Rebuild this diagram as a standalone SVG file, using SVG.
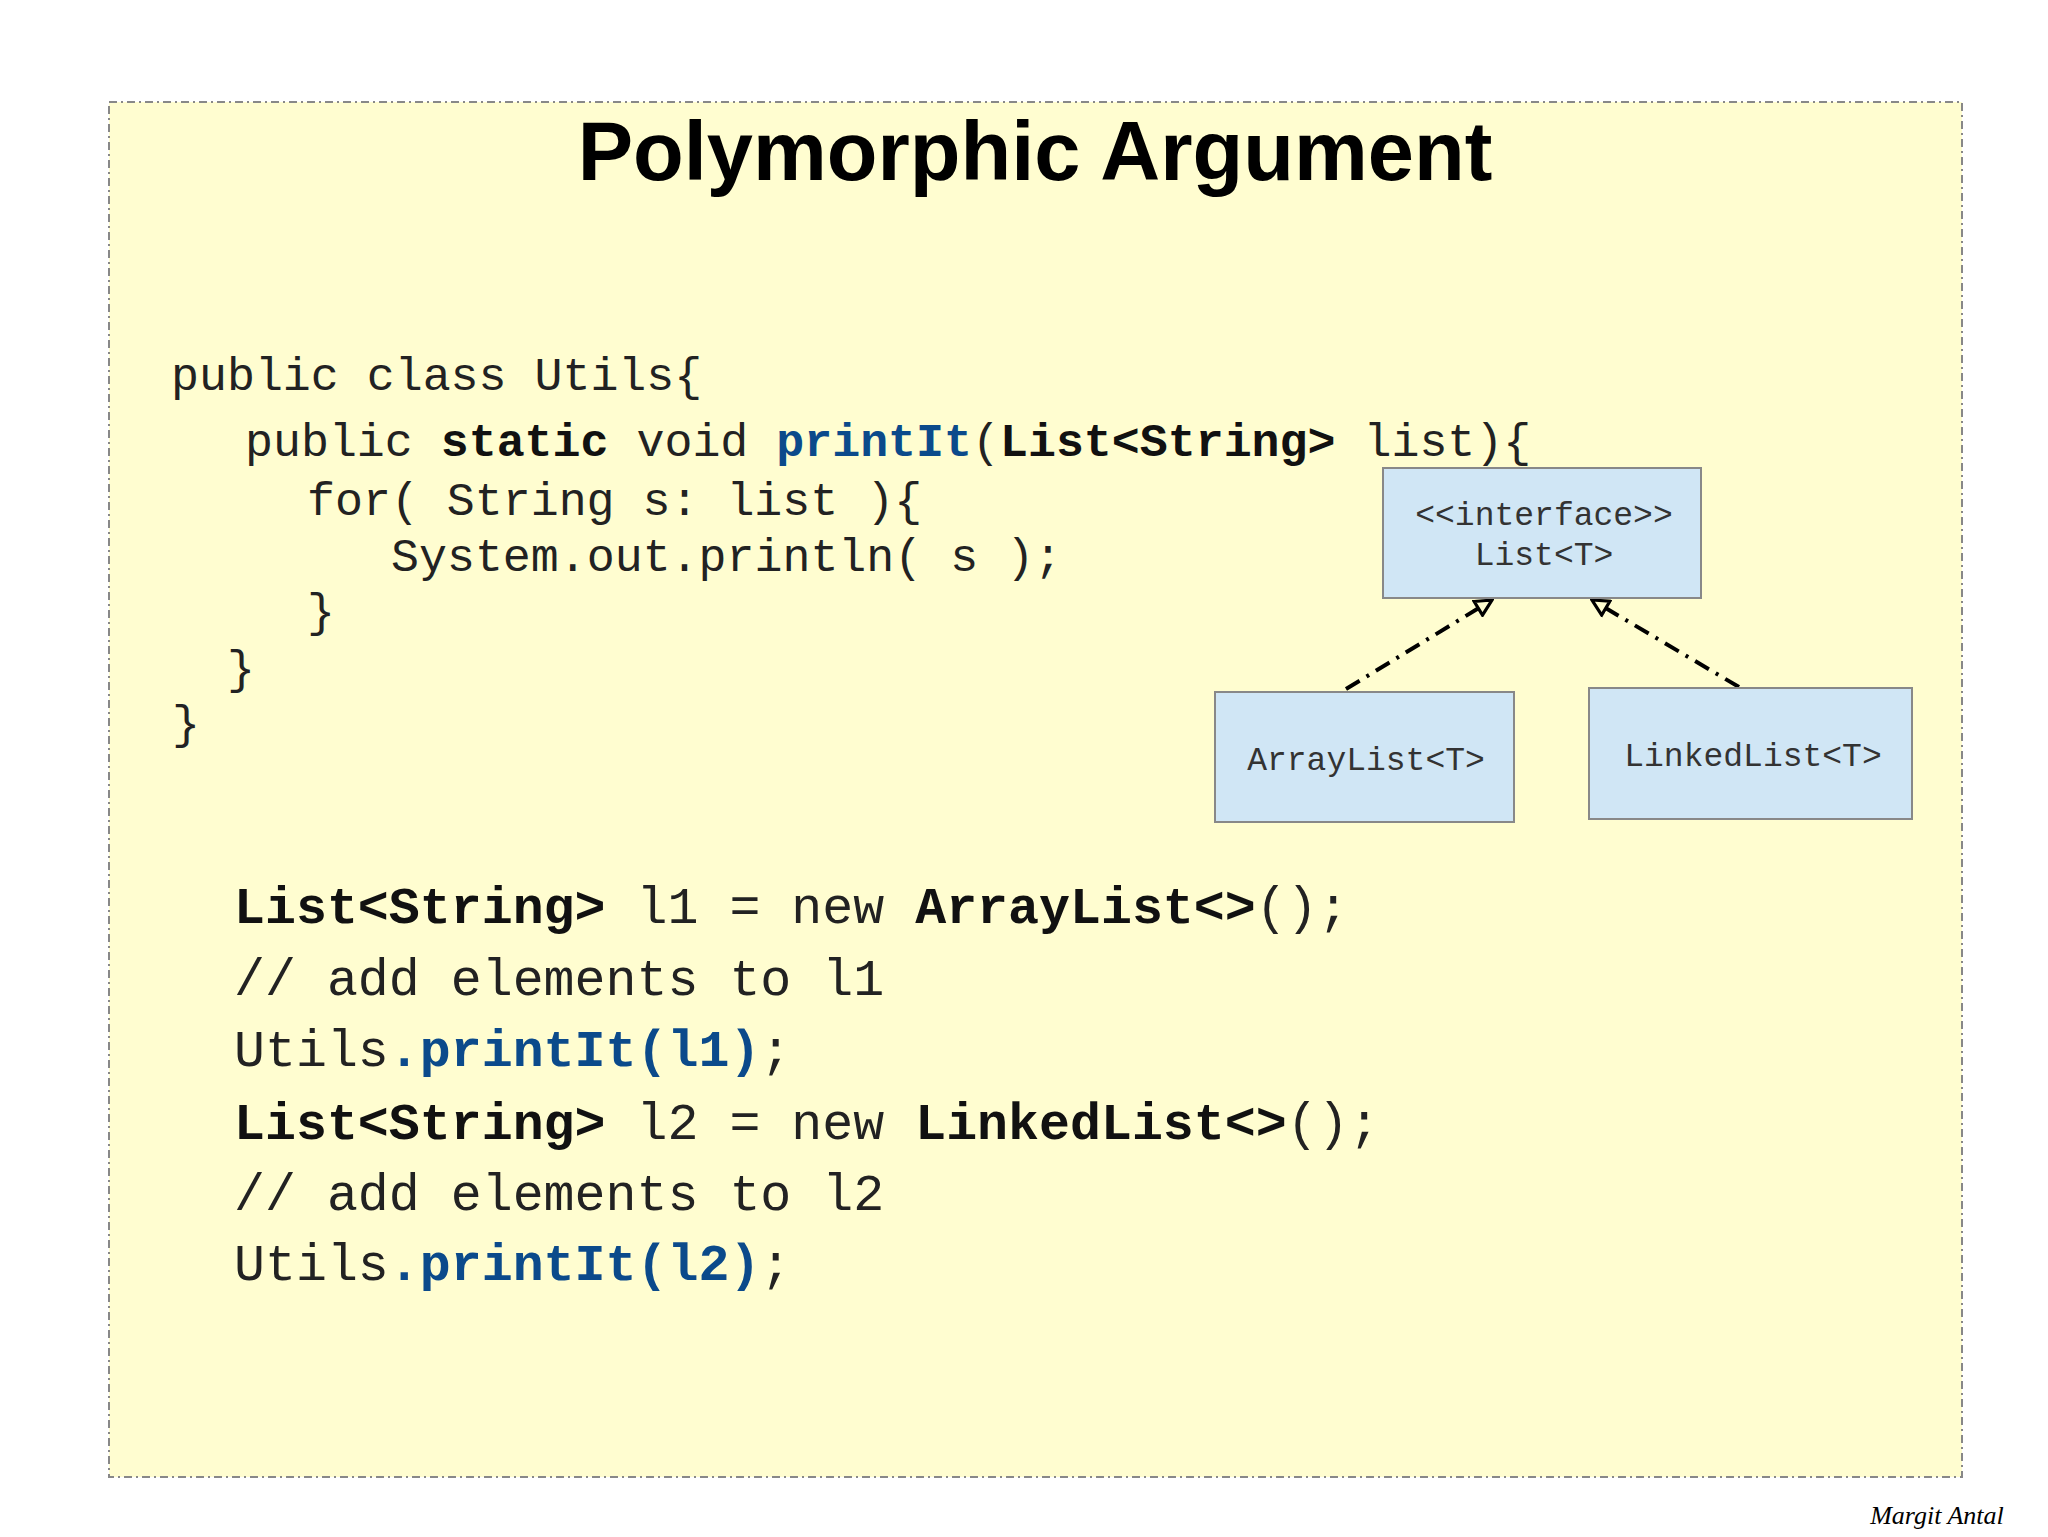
<svg xmlns="http://www.w3.org/2000/svg" width="2048" height="1537" viewBox="0 0 2048 1537">
<style>
.code{font-family:"Liberation Mono","Courier New",monospace;fill:#222;}
.c1{font-size:46.6px;}
.c2{font-size:51.6px;}
.b{font-weight:bold;fill:#111;}
.blue{font-weight:bold;fill:#0b4a8b;}
.box{fill:#d0e6f5;stroke:#888;stroke-width:2;}
.lbl{font-family:"Liberation Mono",monospace;font-size:33px;fill:#333;text-anchor:middle;}
.conn{stroke:#000;stroke-width:4;stroke-dasharray:16 8 3 8;fill:none;marker-end:url(#tri);}
</style>
<defs>
<marker id="tri" viewBox="0 0 10 10" refX="9" refY="5" markerWidth="5" markerHeight="5" orient="auto" markerUnits="strokeWidth">
<path d="M1,1 L9,5 L1,9 Z" fill="#fffdd0" stroke="#000" stroke-width="1.6"/>
</marker>
</defs>
<rect width="2048" height="1537" fill="#fff"/>
<rect x="109" y="102" width="1853" height="1375" fill="#fffdd0" stroke="#888" stroke-width="2" stroke-dasharray="8 4 2 4"/>
<text x="1035" y="180" font-family="Liberation Sans,Arial,sans-serif" font-weight="bold" font-size="83" text-anchor="middle" fill="#000">Polymorphic Argument</text>
<g class="code c1">
<text x="171" y="390" xml:space="preserve">public class Utils{</text>
<text x="245" y="456" xml:space="preserve">public <tspan class="b">static</tspan> void <tspan class="blue">printIt</tspan>(<tspan class="b">List&lt;String&gt;</tspan> list){</text>
<text x="307" y="515" xml:space="preserve">for( String s: list ){</text>
<text x="391" y="571" xml:space="preserve">System.out.println( s );</text>
<text x="307" y="626">}</text>
<text x="227" y="683">}</text>
<text x="172" y="738">}</text>
</g>
<g class="code c2">
<text x="234" y="923" xml:space="preserve"><tspan class="b">List&lt;String&gt;</tspan> l1 = new <tspan class="b">ArrayList&lt;&gt;</tspan>();</text>
<text x="234" y="995" xml:space="preserve">// add elements to l1</text>
<text x="234" y="1066" xml:space="preserve">Utils<tspan class="blue">.printIt(l1)</tspan>;</text>
<text x="234" y="1139" xml:space="preserve"><tspan class="b">List&lt;String&gt;</tspan> l2 = new <tspan class="b">LinkedList&lt;&gt;</tspan>();</text>
<text x="234" y="1210" xml:space="preserve">// add elements to l2</text>
<text x="234" y="1280" xml:space="preserve">Utils<tspan class="blue">.printIt(l2)</tspan>;</text>
</g>
<g id="connectors">
<line class="conn" x1="1346" y1="689" x2="1492" y2="600"/>
<line class="conn" x1="1739" y1="687" x2="1592" y2="600"/>
</g>
<g id="list">
<rect class="box" x="1383" y="468" width="318" height="130"/>
<text class="lbl" x="1544" y="525">&lt;&lt;interface&gt;&gt;</text>
<text class="lbl" x="1544" y="565">List&lt;T&gt;</text>
</g>
<g id="arraylist">
<rect class="box" x="1215" y="692" width="299" height="130"/>
<text class="lbl" x="1366" y="770">ArrayList&lt;T&gt;</text>
</g>
<g id="linkedlist">
<rect class="box" x="1589" y="688" width="323" height="131"/>
<text class="lbl" x="1753" y="766">LinkedList&lt;T&gt;</text>
</g>
<text x="1937" y="1524" font-family="Liberation Serif,serif" font-style="italic" font-size="26" text-anchor="middle" fill="#000">Margit Antal</text>
</svg>
